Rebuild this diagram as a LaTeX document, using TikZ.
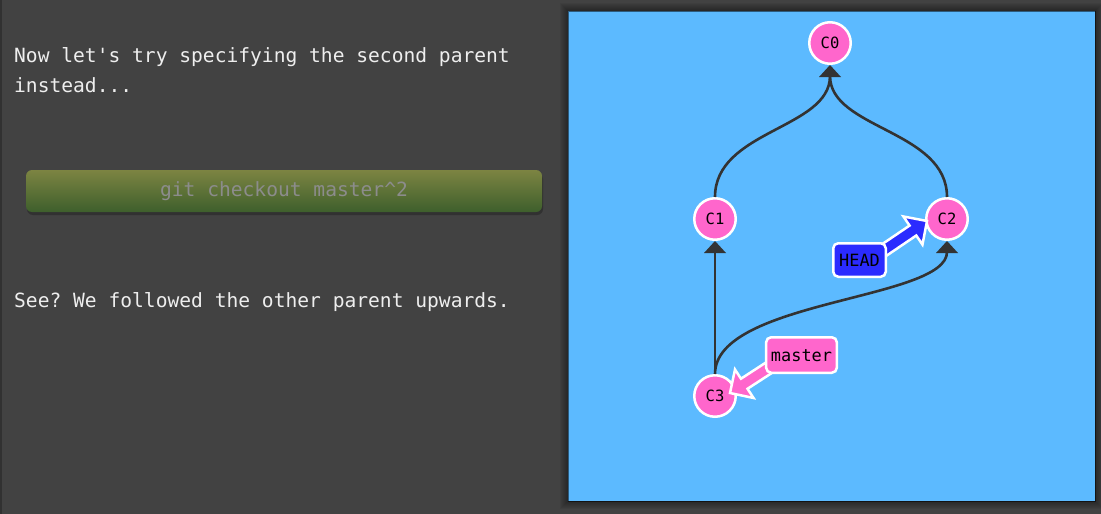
\documentclass[tikz,border=0pt]{standalone}
\usepackage{fontspec}
\setmonofont{DejaVu Sans Mono}
\usetikzlibrary{arrows.meta,calc}
\definecolor{bgdark}{RGB}{66,66,66}
\definecolor{panelblue}{RGB}{92,186,255}
\definecolor{commitpink}{RGB}{255,102,204}
\definecolor{headblue}{RGB}{43,43,255}
\definecolor{edgegray}{RGB}{51,51,51}
\definecolor{txtlight}{RGB}{238,238,238}
\definecolor{btntop}{RGB}{124,132,66}
\definecolor{btnbot}{RGB}{62,95,44}
\definecolor{btntext}{RGB}{140,140,140}
\begin{document}
\begin{tikzpicture}[x=1pt,y=-1pt,
 commit/.style={circle,draw=white,line width=2.5pt,fill=commitpink,minimum size=41.5pt,inner sep=0pt,
   font=\ttfamily\fontsize{15.5}{17}\selectfont,text=black},
 reflabel/.style={rounded corners=5pt,draw=white,line width=2.5pt,text height=12.5pt,text depth=0pt,
   font=\ttfamily\fontsize{16.9}{18}\selectfont,text=black},
 edge/.style={draw=edgegray,line width=2.6pt},
 tipstyle/.style={fill=edgegray},
 para/.style={anchor=base west,text=txtlight,font=\ttfamily\fontsize{19.6}{31}\selectfont,inner sep=0pt},
 refarrow/.style={draw=white,line width=2.5pt,line join=miter},
 btnstyle/.style={rounded corners=6pt,top color=btntop,bottom color=btnbot,minimum width=516pt,
   minimum height=42pt,inner sep=0pt,text=btntext,font=\ttfamily\fontsize{19.6}{24}\selectfont},
]
\useasboundingbox (0,0) rectangle (1101,514);
% backgrounds
\fill[bgdark] (0,0) rectangle (1101,514);
\fill[black,opacity=0.25] (0,0) rectangle (1.5,514);
\foreach \i in {1,...,8}
  \fill[black,opacity=0.05] (568-\i,11-\i) rectangle (1095+\i,501+\i);
\fill[panelblue] (568,11) rectangle (1095,501);
\draw[black,opacity=0.5,line width=0.8pt] (568,11) rectangle (1095,501);

% left text
\node[para] (t1) at (14,62) {Now let's try specifying the second parent};
\node[para] (t2) at (14,92) {instead...};
\fill[black,opacity=0.25,rounded corners=6pt] (27,173) rectangle (543,215);
\node[btnstyle] (btn) at (284,191) {git checkout master\textasciicircum2};
\node[para] (t3) at (14,307) {See? We followed the other parent upwards.};

% commits
\node[commit] (c0) at (830,43) {C0};
\node[commit] (c1) at (715,219) {C1};
\node[commit] (c2) at (947,219) {C2};
\node[commit] (c3) at (715,396) {C3};

% edges (end at the base of the arrow heads)
\draw[edge] (c1.north) .. controls +(0,-67) and +(0,53) .. ($(c0.south)+(0,11)$);
\draw[edge] (c2.north) .. controls +(0,-67) and +(0,53) .. ($(c0.south)+(0,11)$);
\draw[edge] (c3.north) -- ($(c1.south)+(0,11)$);
\draw[edge] (c3.north) .. controls +(0,-74) and +(0,48) .. ($(c2.south)+(0,11)$);
% arrow heads
\fill[tipstyle] (c0.south) -- ++(-11,12) -- ++(22,0) -- cycle;
\fill[tipstyle] (c1.south) -- ++(-11,12) -- ++(22,0) -- cycle;
\fill[tipstyle] (c2.south) -- ++(-11,12) -- ++(22,0) -- cycle;

% HEAD arrow
\coordinate (hT) at (927,221);
\coordinate (hA) at (868,261);
\coordinate (hB) at ($(hT)!17pt!(hA)$);
\filldraw[refarrow,fill=headblue]
  ($(hA)!6pt!90:(hT)$) -- ($(hB)!6pt!90:(hT)$) -- ($(hB)!17pt!90:(hT)$) -- (hT)
  -- ($(hB)!17pt!-90:(hT)$) -- ($(hB)!6pt!-90:(hT)$) -- ($(hA)!6pt!-90:(hT)$) -- cycle;

% master arrow
\coordinate (mT) at (730,393);
\coordinate (mA) at (790,354);
\coordinate (mB) at ($(mT)!17pt!(mA)$);
\filldraw[refarrow,fill=commitpink]
  ($(mA)!6pt!90:(mT)$) -- ($(mB)!6pt!90:(mT)$) -- ($(mB)!17pt!90:(mT)$) -- (mT)
  -- ($(mB)!17pt!-90:(mT)$) -- ($(mB)!6pt!-90:(mT)$) -- ($(mA)!6pt!-90:(mT)$) -- cycle;

% labels
\node[reflabel,fill=headblue,inner xsep=5.9pt,inner ysep=10.5pt] (head) at (859.5,260) {HEAD};
\node[reflabel,fill=commitpink,inner xsep=4.8pt,inner ysep=11.5pt] (master) at (801.5,355) {master};
\end{tikzpicture}
\end{document}
